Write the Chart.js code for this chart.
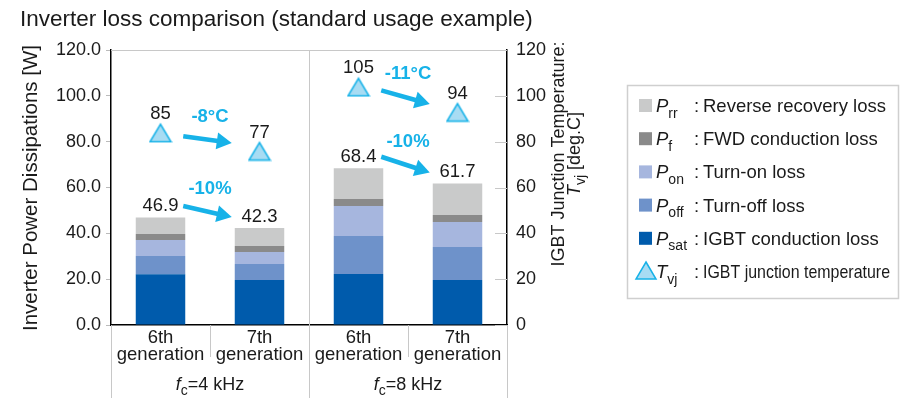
<!DOCTYPE html>
<html>
<head>
<meta charset="utf-8">
<script src="https://cdn.jsdelivr.net/npm/chart.js@4/dist/chart.umd.min.js"></script>
<style>
  html, body { margin: 0; padding: 0; background: #fff; }
  #lossChart { display: block; }
</style>
</head>
<body>
<canvas id="lossChart" width="901" height="400"></canvas>
<script>
// categories and groups
const categories = [["6th", "generation"], ["7th", "generation"], ["6th", "generation"], ["7th", "generation"]];
const groupLabels = ["=4 kHz", "=8 kHz"];

// stacked loss components [W]
const psat = [22.2, 19.6, 22.3, 19.6];
const poff = [7.9, 7.0, 16.5, 14.4];
const pon = [7.0, 5.3, 13.1, 10.9];
const pf = [2.6, 2.6, 3.1, 3.1];
const prr = [7.2, 7.8, 13.4, 13.7];
const totals = [46.9, 42.3, 68.4, 61.7];

// junction temperature [deg.C]
const tvj = [85, 77, 105, 94];

// change labels for each group
const tempChange = ["-8°C", "-11°C"];
const lossChange = ["-10%", "-10%"];

// legend
const legendSub = ["rr", "f", "on", "off", "sat", "vj"];
const legendText = ["Reverse recovery loss", "FWD conduction loss", "Turn-on loss", "Turn-off loss", "IGBT conduction loss", "IGBT junction temperature"];

const COLORS = {
  psat: "#005BAC",
  poff: "#6E92CA",
  pon: "#A6B6DE",
  pf: "#8A8A8A",
  prr: "#C9CACA",
  cyan: "#17B2E8",
  triFill: "#A8DCF3",
  grey: "#c8c8c8",
  text: "#1a1a1a",
};

const FONT = "'Liberation Sans', Arial, sans-serif";

// triangle marker (sits a little low like the original)
const triMarker = document.createElement("canvas");
triMarker.width = 24;
triMarker.height = 26;
(function () {
  const c = triMarker.getContext("2d");
  c.beginPath();
  c.moveTo(12, 7);
  c.lineTo(22.5, 24.5);
  c.lineTo(1.5, 24.5);
  c.closePath();
  c.fillStyle = COLORS.triFill;
  c.fill();
  c.strokeStyle = COLORS.cyan;
  c.lineWidth = 1.5;
  c.stroke();
})();

// draws italic symbol + subscript, returns end x
function symText(ctx, sym, sub, x, y, size) {
  ctx.textAlign = "left";
  ctx.textBaseline = "alphabetic";
  ctx.font = "italic " + size + "px " + FONT;
  ctx.fillText(sym, x, y);
  let w = ctx.measureText(sym).width;
  ctx.font = Math.round(size * 0.75) + "px " + FONT;
  ctx.fillText(sub, x + w, y + size * 0.3);
  return x + w + ctx.measureText(sub).width;
}

function arrow(ctx, x1, y1, x2, y2) {
  const ang = Math.atan2(y2 - y1, x2 - x1);
  const headLen = 15, headW = 8.5;
  const bx = x2 - headLen * Math.cos(ang), by = y2 - headLen * Math.sin(ang);
  ctx.strokeStyle = COLORS.cyan;
  ctx.fillStyle = COLORS.cyan;
  ctx.lineWidth = 4.5;
  ctx.beginPath();
  ctx.moveTo(x1, y1);
  ctx.lineTo(bx + Math.cos(ang), by + Math.sin(ang));
  ctx.stroke();
  ctx.beginPath();
  ctx.moveTo(x2, y2);
  ctx.lineTo(bx + headW * Math.sin(ang), by - headW * Math.cos(ang));
  ctx.lineTo(bx - headW * Math.sin(ang), by + headW * Math.cos(ang));
  ctx.closePath();
  ctx.fill();
}

const decorations = {
  id: "decorations",
  afterDraw(chart) {
    const ctx = chart.ctx;
    const area = chart.chartArea;
    const xs = chart.scales.x;
    const ys = chart.scales.y;
    const ys1 = chart.scales.y1;
    const step = xs.getPixelForValue(1) - xs.getPixelForValue(0);
    const halfBar = step * 0.25;
    ctx.save();

    // title
    ctx.fillStyle = COLORS.text;
    ctx.font = "22.5px " + FONT;
    ctx.textAlign = "left";
    ctx.textBaseline = "alphabetic";
    ctx.fillText("Inverter loss comparison (standard usage example)", 20, 26);

    // left axis title
    ctx.save();
    ctx.translate(31, 188);
    ctx.rotate(-Math.PI / 2);
    ctx.textAlign = "center";
    ctx.textBaseline = "middle";
    ctx.font = "20.5px " + FONT;
    ctx.fillText("Inverter Power Dissipations [W]", 0, 0);
    ctx.restore();

    // right axis title
    ctx.save();
    ctx.translate(559, 154);
    ctx.rotate(-Math.PI / 2);
    ctx.textAlign = "center";
    ctx.textBaseline = "middle";
    ctx.font = "18px " + FONT;
    ctx.fillText("IGBT Junction Temperature:", 0, 0);
    ctx.font = "italic 18px " + FONT;
    const tW = ctx.measureText("T").width;
    ctx.font = "14px " + FONT;
    const vW = ctx.measureText("vj").width;
    ctx.font = "18px " + FONT;
    const dW = ctx.measureText(" [deg.C]").width;
    let sx = -(tW + vW + dW) / 2;
    const ex = symText(ctx, "T", "vj", sx, 21, 18);
    ctx.font = "18px " + FONT;
    ctx.fillText(" [deg.C]", ex, 21);
    ctx.restore();

    // top border and separators
    ctx.strokeStyle = COLORS.grey;
    ctx.lineWidth = 1;
    ctx.beginPath();
    ctx.moveTo(area.left, area.top + 0.5);
    ctx.lineTo(area.right, area.top + 0.5);
    const mid = Math.round(xs.getPixelForValue(1.5)) + 0.5;
    ctx.moveTo(mid, area.top);
    ctx.lineTo(mid, 398);
    [0.5, 2.5].forEach(v => {
      const px = Math.round(xs.getPixelForValue(v)) + 0.5;
      ctx.moveTo(px, area.bottom);
      ctx.lineTo(px, 357);
    });
    [area.left, area.right].forEach(px => {
      ctx.moveTo(Math.round(px) + 0.5, area.bottom);
      ctx.lineTo(Math.round(px) + 0.5, 398);
    });
    // inner ticks of right axis
    for (let v = 0; v <= 120; v += 20) {
      const py = Math.round(ys1.getPixelForValue(v)) + 0.5;
      ctx.moveTo(area.right - 12, py);
      ctx.lineTo(area.right, py);
    }
    ctx.stroke();

    // group labels
    groupLabels.forEach((t, g) => {
      const cx = xs.getPixelForValue(g * 2 + 0.5);
      ctx.font = "italic 18px " + FONT;
      const fW = ctx.measureText("f").width;
      ctx.font = "14px " + FONT;
      const cW = ctx.measureText("c").width;
      ctx.font = "18px " + FONT;
      const rW = ctx.measureText(t).width;
      const x0 = cx - (fW + cW + rW) / 2;
      ctx.fillStyle = COLORS.text;
      const e = symText(ctx, "f", "c", x0, 390, 18);
      ctx.font = "18px " + FONT;
      ctx.fillText(t, e, 390);
    });

    // value labels
    ctx.fillStyle = COLORS.text;
    ctx.font = "18.5px " + FONT;
    ctx.textAlign = "center";
    ctx.textBaseline = "middle";
    totals.forEach((v, i) => {
      ctx.fillText(v.toFixed(1), xs.getPixelForValue(i), ys.getPixelForValue(v) - 11.5);
    });
    tvj.forEach((v, i) => {
      ctx.fillText(String(v), xs.getPixelForValue(i), ys1.getPixelForValue(v) - 16);
    });

    // arrows
    for (let g = 0; g < 2; g++) {
      const a = g * 2, b = g * 2 + 1;
      const x1 = xs.getPixelForValue(a) + halfBar - 2;
      const x2 = xs.getPixelForValue(b) - halfBar - 3;
      const cx = xs.getPixelForValue(a + 0.5);

      const ty1 = ys1.getPixelForValue(tvj[a]) + 6;
      const ty2 = ys1.getPixelForValue(tvj[b]) - 5.5;
      arrow(ctx, x1, ty1, x2, ty2);

      const py1 = ys.getPixelForValue(totals[a]) - 11.5;
      const py2 = ys.getPixelForValue(totals[b]) - 11;
      arrow(ctx, x1, py1, x2, py2);

      ctx.fillStyle = COLORS.cyan;
      ctx.font = "bold 18.5px " + FONT;
      ctx.textAlign = "center";
      ctx.textBaseline = "middle";
      ctx.fillText(tempChange[g], cx, (ty1 + ty2) / 2 - 23);
      ctx.fillText(lossChange[g], cx, (py1 + py2) / 2 - 23);
    }

    // legend
    const lx = 627, ly = 85, lw = 271, lh = 213;
    ctx.strokeStyle = "#cfcfcf";
    ctx.lineWidth = 1.5;
    ctx.strokeRect(lx + 0.5, ly + 0.5, lw, lh);
    const legendColors = [COLORS.prr, COLORS.pf, COLORS.pon, COLORS.poff, COLORS.psat];
    legendText.forEach((t, i) => {
      const cy = 106 + i * 33.2;
      if (i < 5) {
        ctx.fillStyle = legendColors[i];
        ctx.fillRect(639, cy - 7, 13, 13);
      } else {
        ctx.beginPath();
        ctx.moveTo(646, cy - 10);
        ctx.lineTo(656, cy + 7);
        ctx.lineTo(636, cy + 7);
        ctx.closePath();
        ctx.fillStyle = COLORS.triFill;
        ctx.fill();
        ctx.strokeStyle = COLORS.cyan;
        ctx.lineWidth = 1.5;
        ctx.stroke();
      }
      ctx.fillStyle = COLORS.text;
      symText(ctx, i < 5 ? "P" : "T", legendSub[i], 656, cy + 6, 18.5);
      ctx.font = "18.5px " + FONT;
      ctx.textAlign = "left";
      ctx.fillText(":", 694, cy + 6);
      if (i < 5) {
        ctx.fillText(t, 703, cy + 6);
      } else {
        ctx.fillText(t, 703, cy + 6, 187);
      }
    });

    ctx.restore();
  },
};

const ctx2d = document.getElementById("lossChart").getContext("2d");

function barSet(label, data, color) {
  return {
    type: "bar",
    label: label,
    data: data,
    backgroundColor: color,
    borderWidth: 0,
    yAxisID: "y",
    stack: "loss",
    order: 1,
    categoryPercentage: 1,
    barPercentage: 0.5,
  };
}

new Chart(ctx2d, {
  data: {
    labels: categories,
    datasets: [
      {
        type: "line",
        label: "Tvj",
        data: tvj,
        yAxisID: "y1",
        showLine: false,
        pointStyle: triMarker,
        pointRadius: 12,
        pointHoverRadius: 12,
        order: 0,
      },
      barSet("Psat", psat, COLORS.psat),
      barSet("Poff", poff, COLORS.poff),
      barSet("Pon", pon, COLORS.pon),
      barSet("Pf", pf, COLORS.pf),
      barSet("Prr", prr, COLORS.prr),
    ],
  },
  options: {
    responsive: false,
    animation: false,
    devicePixelRatio: 1,
    layout: { padding: { top: 50, left: 0, right: 334, bottom: 0 } },
    plugins: {
      legend: { display: false },
      title: { display: false },
      tooltip: { enabled: false },
    },
    scales: {
      x: {
        stacked: true,
        grid: { display: false, drawTicks: false },
        border: { display: true, color: "#000", width: 1.5 },
        ticks: {
          color: COLORS.text,
          font: { size: 18.5, family: FONT, lineHeight: 0.95 },
          padding: 4,
          maxRotation: 0,
          autoSkip: false,
        },
        afterFit: (s) => { s.height = 75; },
      },
      y: {
        position: "left",
        stacked: true,
        min: 0,
        max: 120,
        grid: { drawOnChartArea: false, drawTicks: true, tickLength: 5, color: "#bbb" },
        border: { display: true, color: "#000", width: 1.5 },
        ticks: {
          stepSize: 20,
          color: COLORS.text,
          font: { size: 18, family: FONT },
          padding: 5,
          callback: (v) => v.toFixed(1),
        },
        afterFit: (s) => { s.width = 111; },
      },
      y1: {
        position: "right",
        min: 0,
        max: 120,
        grid: { drawOnChartArea: false, drawTicks: false },
        border: { display: true, color: "#000", width: 1.5 },
        ticks: {
          stepSize: 20,
          color: COLORS.text,
          font: { size: 18, family: FONT },
          padding: 9,
        },
        afterFit: (s) => { s.width = 60; },
      },
    },
  },
  plugins: [decorations],
});
</script>
</body>
</html>
